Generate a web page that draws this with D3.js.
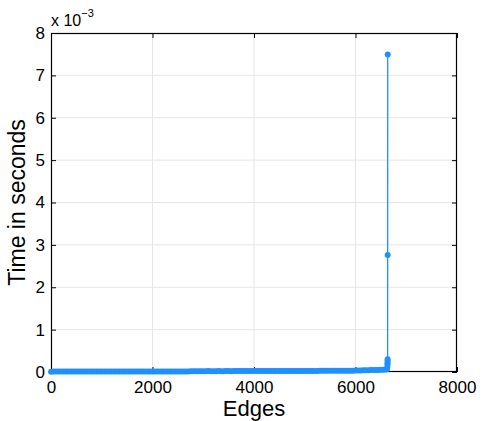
<!DOCTYPE html>
<html><head><meta charset="utf-8">
<script src="https://cdn.jsdelivr.net/npm/d3@7"></script>
<style>
html,body{margin:0;padding:0;background:#fff;}
svg{display:block;font-family:"Liberation Sans",Arial,Helvetica,sans-serif;}
</style></head>
<body><svg id="c" width="482" height="421"></svg>
<script>
const edges = [1,50,100,150,200,250,300,350,400,450,500,550,600,650,700,750,800,850,900,950,1000,1050,1100,1150,1200,1250,1300,1350,1400,1450,1500,1550,1600,1650,1700,1750,1800,1850,1900,1950,2000,2050,2100,2150,2200,2250,2300,2350,2400,2450,2500,2550,2600,2650,2700,2750,2800,2850,2900,2950,3000,3050,3100,3150,3200,3250,3300,3350,3400,3450,3500,3550,3600,3650,3700,3750,3800,3850,3900,3950,4000,4050,4100,4150,4200,4250,4300,4350,4400,4450,4500,4550,4600,4650,4700,4750,4800,4850,4900,4950,5000,5050,5100,5150,5200,5250,5300,5350,5400,5450,5500,5550,5600,5650,5700,5750,5800,5850,5900,5950,6000,6050,6100,6150,6200,6250,6300,6350,6400,6450,6500,6550,6600,6620,6628,6630,6631,6632,6633,6634,6635];
// time in units of 1e-3 seconds
const timesE3 = [
0.008,0.009,0.010,0.010,0.009,0.010,0.011,0.010,0.010,0.009,
0.010,0.010,0.011,0.010,0.010,0.009,0.010,0.010,0.011,0.010,
0.010,0.010,0.009,0.010,0.011,0.010,0.010,0.010,0.011,0.010,
0.010,0.011,0.010,0.010,0.011,0.010,0.011,0.010,0.011,0.011,
0.011,0.012,0.011,0.011,0.012,0.011,0.012,0.012,0.012,0.012,
0.012,0.012,0.013,0.012,0.013,
0.018,0.019,0.020,0.019,0.020,0.020,0.020,0.021,0.020,0.020,
0.020,0.021,0.020,0.020,0.021,0.021,0.020,0.021,0.021,0.021,
0.021,0.022,0.021,0.021,0.022,0.022,0.021,0.022,0.022,0.022,
0.022,0.022,0.023,0.022,0.023,0.023,0.023,0.023,0.023,0.024,
0.024,0.024,0.024,0.025,0.025,0.025,0.025,0.026,0.026,0.026,
0.026,0.027,0.027,0.027,0.027,0.028,0.028,0.028,0.029,0.029,
0.030,0.030,0.031,0.032,0.032,0.033,0.034,0.035,
0.040,0.042,0.044,0.045,0.046,0.048,0.050,0.052,0.055,0.060,
0.07,0.12,0.18,0.22,0.26,0.30,2.76,7.49];
const xTicks = [0,2000,4000,6000,8000];
const yTicks = [0,1,2,3,4,5,6,7,8];
const xLabel = "Edges", yLabel = "Time in seconds";

const data = edges.map((e,i)=>({x:e,y:timesE3[i]})).filter(d=>d.y!==undefined);
const L=51,R=457,T=33,B=372;
const x = d3.scaleLinear().domain([0,8000]).range([L,R]);
const y = d3.scaleLinear().domain([0,8]).range([B,T]);
const svg = d3.select("#c");
const blue = "#1E90FF";

// grid
svg.append("g").selectAll("line").data(xTicks.slice(1,-1)).join("line")
  .attr("x1",d=>x(d)).attr("x2",d=>x(d)).attr("y1",T).attr("y2",B)
  .attr("stroke","#e6e6e6").attr("stroke-width",1);
svg.append("g").selectAll("line").data(yTicks.slice(1,-1)).join("line")
  .attr("y1",d=>y(d)).attr("y2",d=>y(d)).attr("x1",L).attr("x2",R)
  .attr("stroke","#e6e6e6").attr("stroke-width",1);

// axes
function style(g){g.select(".domain").remove();g.selectAll("line").attr("stroke","#000");
  g.selectAll("text").attr("fill","#000").attr("font-size",17).attr("font-family","Liberation Sans, Arial, sans-serif");}
svg.append("g").attr("transform",`translate(0,${B})`)
  .call(d3.axisBottom(x).tickValues(xTicks).tickSize(-5).tickPadding(9).tickFormat(d3.format("d"))).call(style);
svg.append("g").attr("transform",`translate(${L},0)`)
  .call(d3.axisLeft(y).tickValues(yTicks).tickSize(-5).tickPadding(6).tickFormat(d3.format("d"))).call(style);
svg.append("g").attr("transform",`translate(0,${T})`)
  .call(d3.axisTop(x).tickValues(xTicks).tickSize(-5).tickFormat("")).call(style);
svg.append("g").attr("transform",`translate(${R},0)`)
  .call(d3.axisRight(y).tickValues(yTicks).tickSize(-5).tickFormat("")).call(style);

// frame
svg.append("rect").attr("x",L+0.5).attr("y",T+0.5).attr("width",R-L-1).attr("height",B-T-1)
  .attr("fill","none").attr("stroke","#000").attr("stroke-width",1.2);

// series
svg.append("path").datum(data).attr("fill","none").attr("stroke",blue).attr("stroke-width",1.3)
  .attr("d",d3.line().x(d=>x(d.x)).y(d=>y(d.y)));
svg.append("g").selectAll("circle").data(data).join("circle")
  .attr("cx",d=>x(d.x)).attr("cy",d=>y(d.y)).attr("r",3).attr("fill",blue);

// exponent
const ex = svg.append("text").attr("x",L).attr("y",26).attr("font-size",16).attr("fill","#000");
ex.append("tspan").text("x 10");
ex.append("tspan").attr("font-size",11).attr("dy",-9).text("\u22123");

// labels
svg.append("text").attr("x",(L+R)/2).attr("y",416).attr("text-anchor","middle")
  .attr("font-size",22).attr("fill","#000").text(xLabel);
svg.append("text").attr("transform",`translate(25,${(T+B)/2}) rotate(-90)`).attr("text-anchor","middle")
  .attr("font-size",23).attr("fill","#000").text(yLabel);
</script></body></html>
